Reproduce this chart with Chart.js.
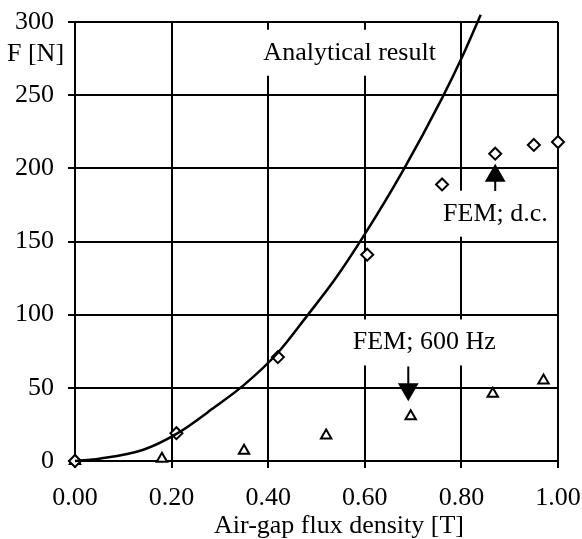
<!DOCTYPE html>
<html>
<head>
<meta charset="utf-8">
<script src="https://cdn.jsdelivr.net/npm/chart.js@4"></script>
<style>
  html, body { margin: 0; padding: 0; background: #fff; }
  #wrap { width: 582px; height: 539px; }
</style>
</head>
<body>
<div id="wrap"><canvas id="myChart" width="582" height="539"></canvas></div>
<script>
/* global Chart */

// analytical curve
const analyticB = [0, 0.05, 0.14, 0.21, 0.29, 0.35, 0.42, 0.48, 0.54, 0.60, 0.68, 0.76, 0.80, 0.84];
const analyticF = [0, 1.6, 7.5, 18.5, 37, 52, 74, 99, 125, 155, 199, 248, 275, 305];

// FEM d.c. (diamonds)
const dcB = [0, 0.21, 0.42, 0.605, 0.76, 0.87, 0.95, 1.0];
const dcF = [0, 19, 71, 141, 189, 210, 216, 218];

// FEM 600 Hz (triangles)
const acB = [0, 0.18, 0.35, 0.52, 0.695, 0.865, 0.97];
const acF = [0, 1.5, 7, 17.5, 30.5, 46, 55];

// arrows pointing at the two FEM series
const dcArrowB = [0.87, 0.87];
const dcArrowF = [184.5, 195];
const acArrowB = [0.69, 0.69];
const acArrowF = [64.5, 49];

const xTicks = [0, 0.2, 0.4, 0.6, 0.8, 1.0];
const yTicks = [0, 50, 100, 150, 200, 250, 300];

const FONT = "'Liberation Serif', 'Times New Roman', serif";

function pts(xs, ys) {
  return xs.map(function (x, i) { return { x: x, y: ys[i] }; });
}

// text labels inside the plot, placed in data units, with white boxes
const notes = [
  { text: "Analytical result", x: 0.39, y: 279 },
  { text: "FEM; d.c.", x: 0.762, y: 169 },
  { text: "FEM; 600 Hz", x: 0.575, y: 81 }
];

const labelPlugin = {
  id: "labels",
  beforeDatasetsDraw(chart) {
    const ctx = chart.ctx;
    const xs = chart.scales.x, ys = chart.scales.y;
    ctx.save();
    ctx.font = "26px " + FONT;
    ctx.textBaseline = "middle";
    ctx.textAlign = "left";
    notes.forEach(function (n) {
      const px = xs.getPixelForValue(n.x);
      const py = ys.getPixelForValue(n.y);
      const w = ctx.measureText(n.text).width;
      ctx.fillStyle = "#fff";
      ctx.fillRect(px - 7, py - 23, w + 12, 46);
      ctx.fillStyle = "#000";
      ctx.fillText(n.text, px, py);
    });
    ctx.restore();
  },
  afterDraw(chart) {
    const ctx = chart.ctx;
    const area = chart.chartArea;
    ctx.save();
    ctx.fillStyle = "#000";
    ctx.font = "26px " + FONT;
    ctx.textBaseline = "middle";
    ctx.textAlign = "left";
    ctx.fillText("F [N]", 7, 54);
    ctx.textAlign = "center";
    ctx.textBaseline = "alphabetic";
    ctx.fillText("Air-gap flux density [T]", area.left + 264, 533);
    ctx.restore();
  }
};

const ctx = document.getElementById("myChart").getContext("2d");
const myChart = new Chart(ctx, {
  type: "scatter",
  data: {
    datasets: [
      {
        label: "Analytical result",
        data: pts(analyticB, analyticF),
        showLine: true,
        borderColor: "#000",
        borderWidth: 2.5,
        pointRadius: 0,
        cubicInterpolationMode: "monotone",
        clip: false
      },
      {
        label: "FEM; d.c.",
        data: pts(dcB, dcF),
        pointStyle: "rectRot",
        pointRadius: 6,
        borderColor: "#000",
        backgroundColor: "#fff",
        pointBorderWidth: 2,
        clip: false
      },
      {
        label: "FEM; 600 Hz",
        data: pts(acB, acF),
        pointStyle: "triangle",
        pointRadius: 6,
        borderColor: "#000",
        backgroundColor: "#fff",
        pointBorderWidth: 2,
        clip: false
      },
      {
        label: "dc arrow",
        data: pts(dcArrowB, dcArrowF),
        showLine: true,
        borderColor: "#000",
        borderWidth: 2,
        pointRadius: [0, 12],
        pointStyle: "triangle",
        pointBackgroundColor: "#000",
        pointBorderWidth: 0,
        clip: false
      },
      {
        label: "ac arrow",
        data: pts(acArrowB, acArrowF),
        showLine: true,
        borderColor: "#000",
        borderWidth: 2,
        pointRadius: [0, 12],
        pointStyle: "triangle",
        pointRotation: 180,
        pointBackgroundColor: "#000",
        pointBorderWidth: 0,
        clip: false
      }
    ]
  },
  options: {
    responsive: false,
    animation: false,
    layout: { padding: { top: 22, right: 24, left: 0, bottom: 0 } },
    plugins: {
      legend: { display: false },
      tooltip: { enabled: false }
    },
    scales: {
      x: {
        type: "linear",
        min: 0,
        max: 1,
        afterBuildTicks: function (scale) {
          scale.ticks = xTicks.map(function (v) { return { value: v }; });
        },
        afterFit: function (scale) {
          scale.height = 78;
          scale.paddingLeft = 0;
          scale.paddingRight = 0;
        },
        ticks: {
          color: "#000",
          font: { family: FONT, size: 26 },
          padding: 15,
          maxRotation: 0,
          callback: function (v) { return Number(v).toFixed(2); }
        },
        grid: { color: "#000", lineWidth: 2, tickLength: 7, tickColor: "#000" },
        border: { color: "#000", width: 2 }
      },
      y: {
        type: "linear",
        min: 0,
        max: 300,
        afterBuildTicks: function (scale) {
          scale.ticks = yTicks.map(function (v) { return { value: v }; });
        },
        afterFit: function (scale) {
          scale.width = 75;
          scale.paddingTop = 0;
          scale.paddingBottom = 0;
        },
        ticks: {
          color: "#000",
          font: { family: FONT, size: 26 },
          padding: 14
        },
        grid: { color: "#000", lineWidth: 2, tickLength: 7, tickColor: "#000" },
        border: { color: "#000", width: 2 }
      }
    }
  },
  plugins: [labelPlugin]
});
</script>
</body>
</html>
